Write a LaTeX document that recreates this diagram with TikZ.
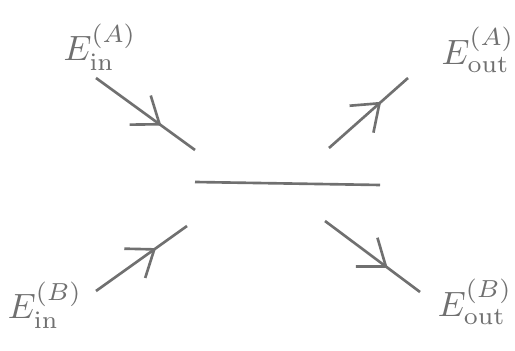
\documentclass[tikz,border=0pt]{standalone}
\usepackage{tikz}
\usetikzlibrary{arrows.meta, positioning, decorations.markings}
\usepackage{xcolor}
\definecolor{PencilGrey}{HTML}{707070}
\definecolor{PaperWhite}{HTML}{ffffff}
\tikzset{
    % Beam styles - pencil lines with a mid arrow
    beam/.style={
        draw=PencilGrey,
        line width=0.75pt,
        postaction={decorate},
        decoration={markings,
            mark=at position 0.66 with {\arrow{Straight Barb[length=2.4mm, width=3.6mm]}}}
    },
    splitter/.style={
        draw=PencilGrey,
        line width=0.75pt
    },
    % Label style
    field/.style={
        text=PencilGrey,
        font=\normalsize,
        inner sep=1pt
    }
}
\begin{document}
\begin{tikzpicture}
    \useasboundingbox[fill=PaperWhite] (0,0) rectangle (5.15,3.5);

    % beam splitter
    \coordinate (bsL) at (1.95,1.68);
    \coordinate (bsR) at (3.80,1.65);
    \draw[splitter] (bsL) -- (bsR);

    % beam end points
    \coordinate (inAs) at (0.96,2.72);
    \coordinate (inAe) at (1.95,2.00);
    \coordinate (inBs) at (0.96,0.59);
    \coordinate (inBe) at (1.87,1.24);
    \coordinate (outAs) at (3.29,2.02);
    \coordinate (outAe) at (4.08,2.72);
    \coordinate (outBs) at (3.25,1.29);
    \coordinate (outBe) at (4.20,0.58);

    \draw[beam] (inAs) -- (inAe);
    \draw[beam] (inBs) -- (inBe);
    \draw[beam] (outAs) -- (outAe);
    \draw[beam] (outBs) -- (outBe);

    % field labels
    \node[field] (EinA) at (1.00,3.03) {$E_{\mathrm{in}}^{(A)}$};
    \node[field] (EinB) at (0.45,0.45) {$E_{\mathrm{in}}^{(B)}$};
    \node[field] (EoutA) at (4.78,3.00) {$E_{\mathrm{out}}^{(A)}$};
    \node[field] (EoutB) at (4.75,0.48) {$E_{\mathrm{out}}^{(B)}$};
\end{tikzpicture}
\end{document}
